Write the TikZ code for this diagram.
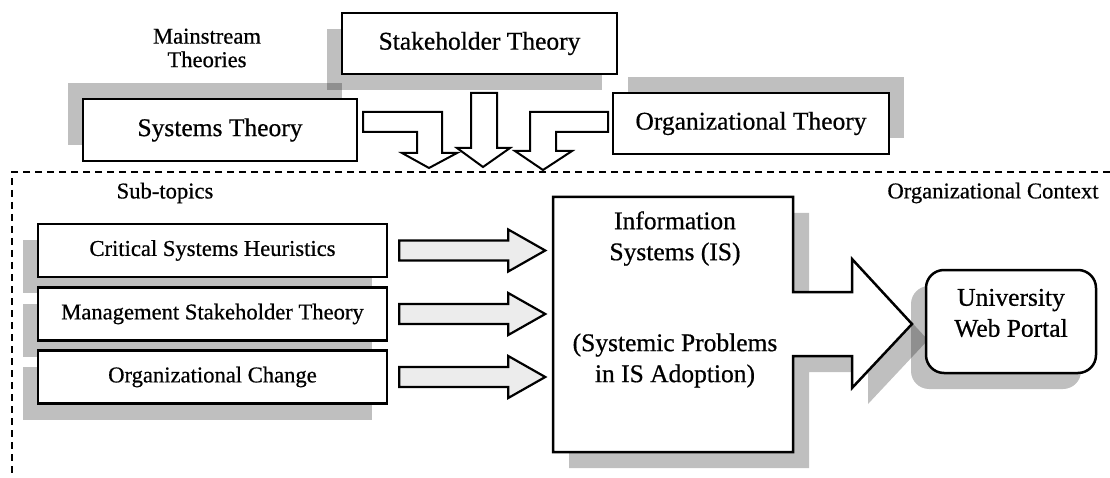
\documentclass[tikz,border=0pt]{standalone}
\usepackage{fontspec}
\setmainfont{Liberation Serif}[FakeBold=0.6]
\usepackage{tikz}
\usetikzlibrary{calc}
\usetikzlibrary{shadows}
\newcommand{\bigsize}{\fontsize{25.5}{31}\selectfont}
\newcommand{\smallsize}{\fontsize{22.6}{23.5}\selectfont}
\tikzset{shadow dl/.style = {drop shadow={shadow xshift=-15pt, shadow yshift=-16pt, opacity=.25, fill=black, draw=none}},
         shadow ul/.style = {drop shadow={shadow xshift=-15pt, shadow yshift=16pt, opacity=.25, fill=black, draw=none}},
         shadow ur/.style = {drop shadow={shadow xshift=15pt, shadow yshift=16pt, opacity=.25, fill=black, draw=none}},
         shadow dr/.style = {drop shadow={shadow xshift=16pt, shadow yshift=-16pt, opacity=.25, fill=black, draw=none}},
         box/.style = {draw, line width=2.5pt, fill=white, font=\bigsize, align=center, inner sep=0pt},
         subbox/.style = {box, shadow dl, font=\smallsize, minimum width=349pt, minimum height=53pt},
         isshape/.style = {draw, line width=2.5pt, fill=white, line join=miter},
         tarrow/.style = {draw, line width=2pt, fill=white, line join=miter},
         garrow/.style = {draw, line width=2.2pt, fill=gray!15, line join=miter},
         frame/.style = {line width=1.4pt, dash pattern=on 7pt off 5pt}}

\begin{document}
\begin{tikzpicture}[x=1pt, y=-1pt]
  \useasboundingbox (0,0) rectangle (1110,478);

  \draw[frame] (1110,172) -- (12,172) -- (12,478);

  \node[font=\smallsize, align=center] (mainst) at (207,48) {Mainstream\\Theories};
  \node[box, shadow dl, minimum width=275pt, minimum height=61pt] (stake) at (479.5,43.5) {Stakeholder Theory};
  \node[box, shadow ul, minimum width=274pt, minimum height=62pt] (systh) at (220,130) {Systems Theory};
  \node[box, shadow ur, minimum width=276pt, minimum height=61pt] (orgth) at (751,123.5) {Organizational Theory};

  \draw[tarrow] (363,112) -- (442,112) -- (442,153) -- (457,153) -- (429,168) -- (402,153) -- (417,153) -- (417,132) -- (363,132) -- cycle;
  \draw[tarrow] (471,93) -- (497,93) -- (497,148) -- (510,148) -- (483,167) -- (457,148) -- (471,148) -- cycle;
  \draw[tarrow] (608,112) -- (530,112) -- (530,151) -- (515,151) -- (543,170) -- (572,151) -- (556,151) -- (556,132) -- (608,132) -- cycle;

  \node[font=\smallsize] (subtop) at (165,193) {Sub-topics};
  \node[font=\smallsize] (orgctx) at (993,193) {Organizational Context};

  \node[subbox] (crit) at (212.5,250.5) {Critical Systems Heuristics};
  \node[subbox] (mgmt) at (212.5,314) {Management Stakeholder Theory};
  \node[subbox] (orgch) at (212.5,377) {Organizational Change};

  \foreach \b in {crit,mgmt,orgch}
    \draw[garrow] ($(\b.east)+(11,-10)$) -- ++(109,0) -- ++(0,-11) -- ++(37,21) -- ++(-37,21) -- ++(0,-11) -- ++(-109,0) -- cycle;

  \draw[isshape, shadow dr] (553,197) -- (793,197) -- (793,292) -- (852,292) -- (852,259) -- (912,324) -- (852,388) -- (852,356) -- (793,356) -- (793,452) -- (553,452) -- cycle;
  \node[font=\bigsize, align=center] (istop) at (675,238.5) {Information\\Systems (IS)};
  \node[font=\bigsize, align=center] (isbot) at (675,360.5) {(Systemic Problems\\in IS Adoption)};

  \node[box, shadow dl, rounded corners=18pt, minimum width=170pt, minimum height=103pt] (portal) at (1011,321.5) {};
  \node[font=\bigsize, align=center] (portaltxt) at (1011,313) {University\\Web Portal};
\end{tikzpicture}
\end{document}
